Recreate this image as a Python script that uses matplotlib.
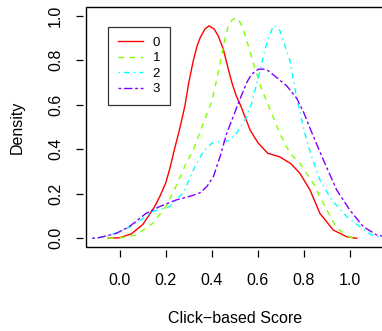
import matplotlib
matplotlib.use("Agg")
import matplotlib.pyplot as plt
from matplotlib.patches import Rectangle

groups = ["0", "1", "2", "3"]
colors = ["#FF0000", "#80FF00", "#00FFFF", "#8000FF"]

x0 = [-0.05, 0.0, 0.05, 0.10, 0.15, 0.175, 0.20, 0.218, 0.237, 0.26, 0.283, 0.30, 0.32, 0.335,
      0.349, 0.37, 0.388, 0.41, 0.428, 0.45, 0.472, 0.487, 0.505, 0.527, 0.566, 0.602, 0.643,
      0.697, 0.744, 0.783, 0.827, 0.870, 0.928, 0.987, 1.03]
y0 = [0.0, 0.003, 0.02, 0.062, 0.14, 0.19, 0.25, 0.315, 0.397, 0.49, 0.594, 0.70, 0.80, 0.86,
      0.90, 0.94, 0.954, 0.94, 0.909, 0.849, 0.759, 0.70, 0.643, 0.592, 0.487, 0.427, 0.382,
      0.365, 0.335, 0.292, 0.217, 0.112, 0.037, 0.007, 0.0]

x1 = [-0.05, 0.0, 0.07, 0.143, 0.2, 0.244, 0.288, 0.32, 0.363, 0.40, 0.428, 0.443, 0.457,
      0.472, 0.488, 0.505, 0.52, 0.537, 0.559, 0.58, 0.617, 0.653, 0.697, 0.74, 0.783, 0.841,
      0.885, 0.943, 1.0, 1.03]
y1 = [0.0, 0.002, 0.015, 0.067, 0.142, 0.232, 0.337, 0.397, 0.517, 0.615, 0.744, 0.819, 0.894,
      0.954, 0.98, 0.991, 0.975, 0.939, 0.864, 0.789, 0.669, 0.58, 0.468, 0.382, 0.337, 0.247,
      0.157, 0.045, 0.005, 0.0]

x2 = [-0.12, -0.06, 0.0, 0.044, 0.088, 0.143, 0.215, 0.276, 0.30, 0.327, 0.363, 0.40, 0.436,
      0.472, 0.508, 0.552, 0.573, 0.602, 0.617, 0.631, 0.646, 0.667, 0.683, 0.697, 0.718, 0.74,
      0.762, 0.776, 0.805, 0.834, 0.87, 0.921, 0.987, 1.044, 1.088, 1.13]
y2 = [0.0, 0.008, 0.03, 0.052, 0.08, 0.12, 0.142, 0.205, 0.26, 0.322, 0.39, 0.427, 0.434,
      0.438, 0.472, 0.546, 0.606, 0.722, 0.782, 0.849, 0.894, 0.954, 0.95, 0.931, 0.864, 0.797,
      0.669, 0.599, 0.468, 0.367, 0.262, 0.172, 0.097, 0.052, 0.019, 0.005]

x3 = [-0.12, -0.09, -0.016, 0.041, 0.114, 0.172, 0.244, 0.31, 0.35, 0.378, 0.407, 0.436, 0.465,
      0.493, 0.515, 0.552, 0.573, 0.602, 0.625, 0.646, 0.682, 0.726, 0.769, 0.798, 0.827, 0.885,
      0.943, 1.0, 1.059, 1.117, 1.15]
y3 = [0.0, 0.003, 0.022, 0.052, 0.112, 0.142, 0.172, 0.19, 0.205, 0.232, 0.277, 0.367, 0.472,
      0.546, 0.606, 0.70, 0.737, 0.759, 0.76, 0.752, 0.722, 0.684, 0.629, 0.569, 0.494, 0.352,
      0.217, 0.127, 0.052, 0.015, 0.008]

xticks = [0.0, 0.2, 0.4, 0.6, 0.8, 1.0]
yticks = [0.0, 0.2, 0.4, 0.6, 0.8, 1.0]

plt.rcParams['font.family'] = ['Liberation Sans', 'DejaVu Sans']

W, H = 382, 331
fig = plt.figure(figsize=(W / 100, H / 100), dpi=100)
L, R, T, B = 86, 384, 6.7, 247
ax = fig.add_axes([L / W, 1 - B / H, (R - L) / W, (B - T) / H])

styles = ["-", (0, (4, 4)), (0, (1, 3, 4, 3)), (0, (2, 2, 6, 2))]
xs = [x0, x1, x2, x3]
ys = [y0, y1, y2, y3]
for g, c, ls, xx, yy in zip(groups, colors, styles, xs, ys):
    ax.plot(xx, yy, color=c, linestyle=ls, lw=1.0, label=g)

ax.set_xlim(-0.147, (R - 119.8) / 230)
ax.set_ylim(-0.039, 1.04)

for s in ["top", "right"]:
    ax.spines[s].set_visible(False)
for s in ["left", "bottom"]:
    ax.spines[s].set_position(("outward", 2))
    ax.spines[s].set_color("none")
ax.add_patch(Rectangle((0, 0), 1, 1, transform=ax.transAxes, fill=False,
                       edgecolor="black", lw=1.0, clip_on=False))

ax.set_xticks(xticks)
ax.set_xticklabels([f"{v:.1f}" for v in xticks])
ax.set_yticks(yticks)
ax.set_yticklabels([f"{v:.1f}" for v in yticks], rotation=90, va="center")
ax.tick_params(direction="out", length=5, width=0.9, labelsize=11.5)
ax.tick_params(axis="x", pad=11.5)
ax.tick_params(axis="y", pad=9.6)

ax.set_xlabel("Click\u2212based Score", fontsize=11.5, labelpad=17)
ax.set_ylabel("Density", fontsize=11.5, labelpad=16.5)

leg = ax.legend(loc="upper left", bbox_to_anchor=((107.7 - L) / (R - L), 1 - (26.7 - T) / (B - T)),
                fontsize=9.5, frameon=True, fancybox=False, edgecolor="black",
                handlelength=1.9, handletextpad=0.75, labelspacing=0.25, borderpad=0.75,
                borderaxespad=0)
leg.get_frame().set_linewidth(0.9)

fig.savefig("out.png", dpi=100)
